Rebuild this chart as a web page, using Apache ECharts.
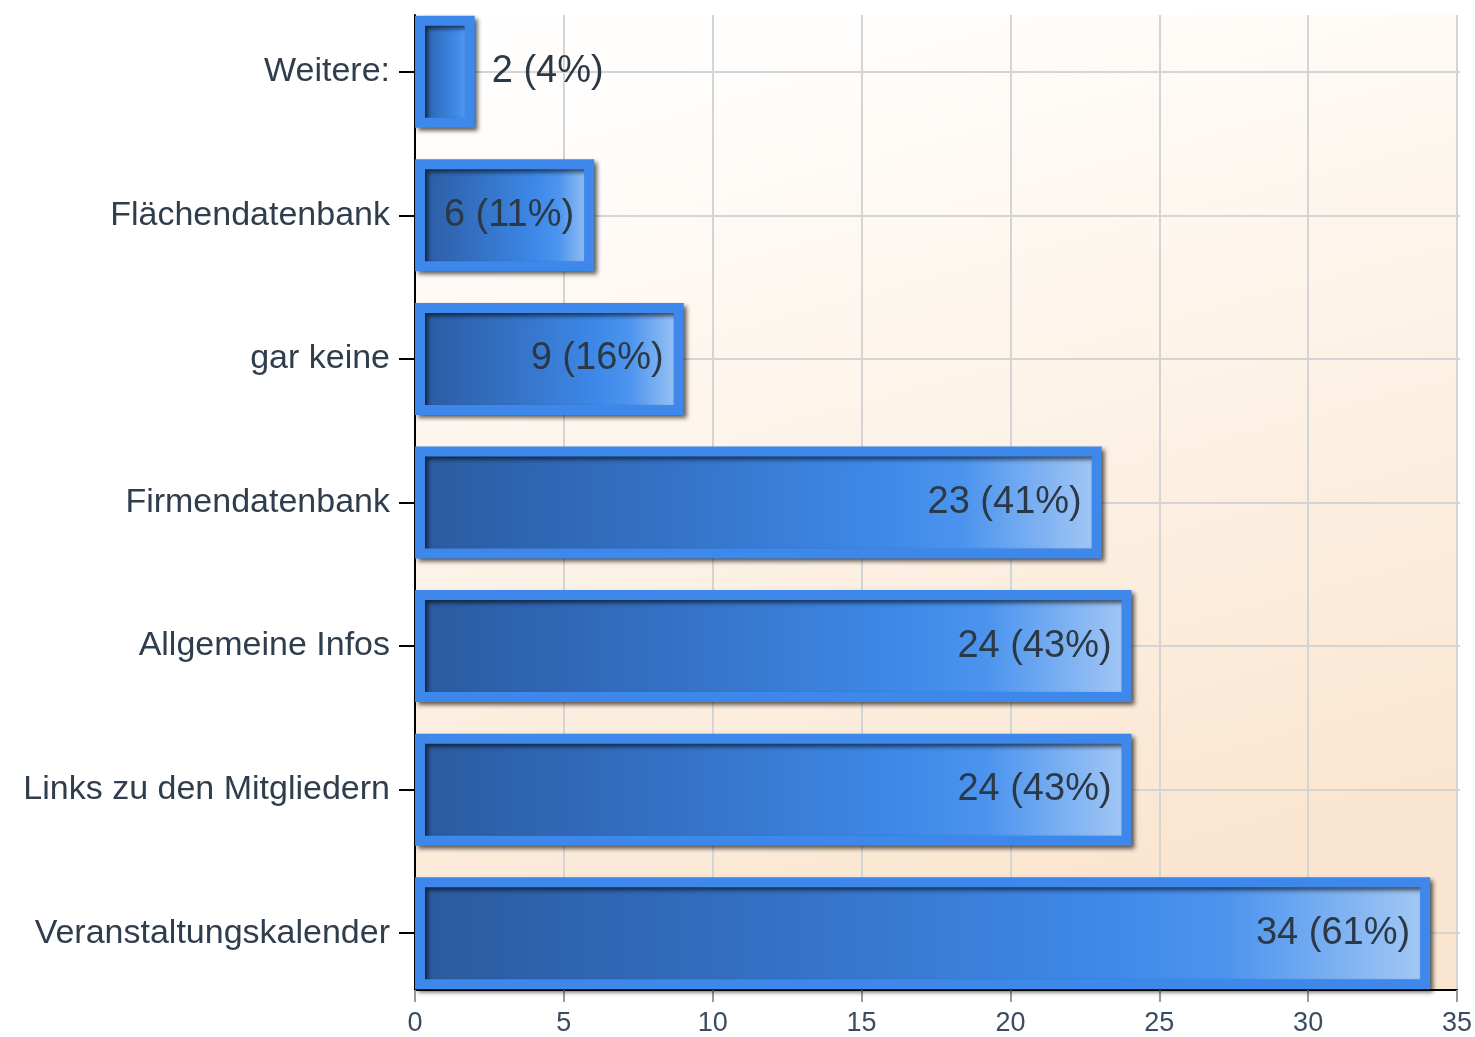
<!DOCTYPE html>
<html>
<head>
<meta charset="utf-8">
<title>Nutzung</title>
<script src="https://cdn.jsdelivr.net/npm/echarts@6/dist/echarts.min.js"></script>
<style>
  html, body { margin: 0; padding: 0; background: #fff; }
  #chart { width: 1475px; height: 1037px; }
</style>
</head>
<body>
<div id="chart"></div>
<script>
// data (top to bottom)
var categories = [
  "Weitere:",
  "Flächendatenbank",
  "gar keine",
  "Firmendatenbank",
  "Allgemeine Infos",
  "Links zu den Mitgliedern",
  "Veranstaltungskalender"
];
var counts = [2, 6, 9, 23, 24, 24, 34];
var percents = [4, 11, 16, 41, 43, 43, 61];
var xTicks = [0, 5, 10, 15, 20, 25, 30, 35];

var font = "'Liberation Sans', Arial, sans-serif";
var chart = echarts.init(document.getElementById("chart"));

var barFill = new echarts.graphic.LinearGradient(0, 0, 1, 0, [
  { offset: 0, color: "#2b5a9f" },
  { offset: 0.35, color: "#3471c4" },
  { offset: 0.68, color: "#3e89e9" },
  { offset: 0.8, color: "#4c94ee" },
  { offset: 1, color: "#a6c9f5" }
]);

var barData = counts.map(function (v, i) {
  var outside = v < 4; // short bars get their label outside
  return {
    value: v,
    label: { position: outside ? "right" : "insideRight", distance: outside ? 17 : 20 }
  };
});

var option = {
  animation: false,
  textStyle: { fontFamily: font },
  grid: [
    {
      // plot frame: background, vertical grid lines, x axis
      left: 415, right: 15, top: 15, bottom: 47,
      show: true,
      borderWidth: 0,
      backgroundColor: new echarts.graphic.LinearGradient(0, 0, 0.25, 1, [
        { offset: 0, color: "#ffffff" },
        { offset: 0.15, color: "#fffdfb" },
        { offset: 1, color: "#fae6d0" }
      ])
    },
    {
      // bars
      left: 415, right: 15, top: 0, bottom: 32
    }
  ],
  xAxis: [
    {
      gridIndex: 0,
      type: "value",
      min: xTicks[0],
      max: xTicks[xTicks.length - 1],
      interval: 5,
      axisLine: { show: true, lineStyle: { color: "#000", width: 2 } },
      axisTick: { show: true, length: 12, lineStyle: { color: "#9a9a9a", width: 2 } },
      axisLabel: { fontSize: 27, color: "#3a4c60", margin: 20, fontFamily: font },
      splitLine: { show: true, lineStyle: { color: "#d4d4d4", width: 2 } }
    },
    {
      gridIndex: 1,
      type: "value",
      min: xTicks[0],
      max: xTicks[xTicks.length - 1],
      show: false
    }
  ],
  yAxis: [
    {
      gridIndex: 0,
      type: "value",
      axisLine: { show: true, lineStyle: { color: "#000", width: 2 } },
      axisTick: { show: false },
      axisLabel: { show: false },
      splitLine: { show: false }
    },
    {
      gridIndex: 1,
      type: "category",
      inverse: true,
      data: categories,
      axisLine: { show: false },
      axisTick: { show: true, alignWithLabel: true, length: 16, lineStyle: { color: "#000", width: 2 } },
      axisLabel: { fontSize: 34, color: "#2f3d4d", margin: 25, fontFamily: font },
      splitLine: { show: false }
    }
  ],
  series: [
    {
      type: "bar",
      xAxisIndex: 1,
      yAxisIndex: 1,
      barWidth: 112,
      z: 2,
      data: barData,
      itemStyle: {
        color: barFill,
        borderColor: "#3d88ea",
        borderWidth: 10,
        shadowColor: "rgba(0,0,0,0.6)",
        shadowBlur: 4,
        shadowOffsetX: 3,
        shadowOffsetY: 3
      },
      label: {
        show: true,
        fontSize: 38,
        color: "#2b3947",
        fontFamily: font,
        formatter: function (p) {
          return p.value + " (" + percents[p.dataIndex] + "%)";
        }
      },
      markLine: {
        z: 1,
        silent: true,
        symbol: "none",
        label: { show: false },
        lineStyle: { color: "#d4d4d4", width: 2, type: "solid" },
        data: categories.map(function (c) { return { yAxis: c }; })
      }
    }
  ]
};

chart.setOption(option);
</script>
</body>
</html>
